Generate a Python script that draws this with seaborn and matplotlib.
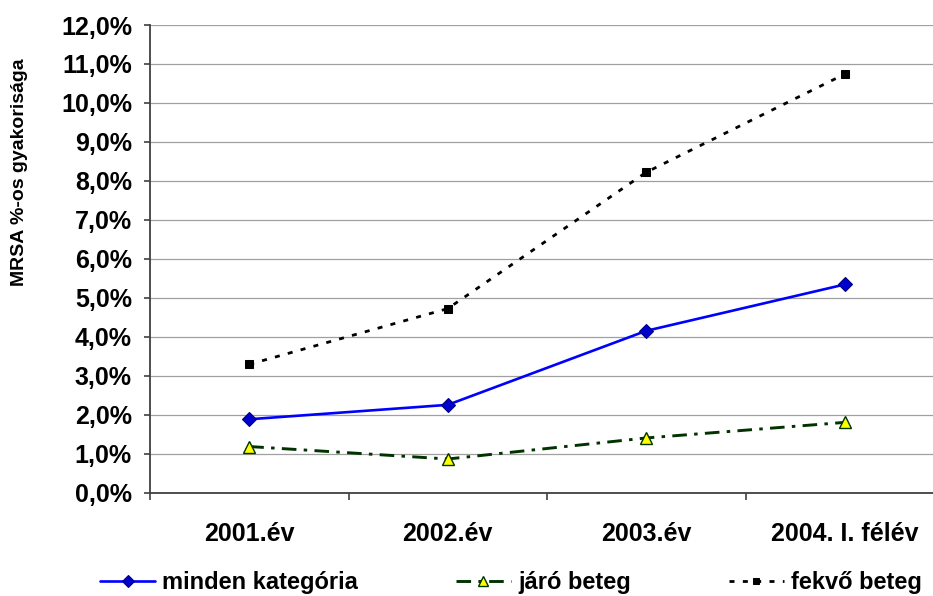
import matplotlib
matplotlib.use("Agg")
import matplotlib.pyplot as plt
from matplotlib.ticker import FixedLocator, FuncFormatter
import seaborn as sns
import pandas as pd

# Categories and series (MRSA frequency, %)
categories = ["2001.év", "2002.év", "2003.év", "2004. I. félév"]
minden_kategoria = [1.88, 2.25, 4.15, 5.34]
jaro_beteg = [1.18, 0.86, 1.40, 1.80]
fekvo_beteg = [3.29, 4.72, 8.22, 10.74]

series_names = ["minden kategória", "járó beteg", "fekvő beteg"]
series_values = [minden_kategoria, jaro_beteg, fekvo_beteg]

rows = []
for name, vals in zip(series_names, series_values):
    for i, v in enumerate(vals):
        rows.append({"pos": i, "kategoria": categories[i], "sorozat": name, "ertek": v})
df = pd.DataFrame(rows)

sns.set_style("white")
plt.rcParams["font.family"] = ["Liberation Sans", "DejaVu Sans"]
plt.rcParams["font.weight"] = "bold"
plt.rcParams["text.color"] = "black"
plt.rcParams["xtick.color"] = "black"
plt.rcParams["ytick.color"] = "black"

W, H = 933, 596
fig = plt.figure(figsize=(W / 100, H / 100), dpi=100)
ax = fig.add_axes([150 / W, 1 - 492.5 / H, 794 / W, 467.5 / H])

styles = {
    "minden kategória": dict(color="#0000ff", linewidth=1.9, linestyle="-",
                             marker="D", markersize=7.5, markerfacecolor="#0000cc",
                             markeredgecolor="#000080", markeredgewidth=0.8),
    "járó beteg": dict(color="#003300", linewidth=2.1, dashes=(5, 2.5, 1.2, 2.5),
                       marker="^", markersize=8.5, markerfacecolor="#ffff00",
                       markeredgecolor="#003300", markeredgewidth=1.0),
    "fekvő beteg": dict(color="#000000", linewidth=2.0, dashes=(1.8, 3.0),
                        marker="s", markersize=6, markerfacecolor="#000000",
                        markeredgecolor="#000000"),
}

for name in series_names:
    sub = df[df["sorozat"] == name]
    sns.lineplot(data=sub, x="pos", y="ertek", ax=ax, label=name,
                 sort=False, estimator=None, **styles[name])

ax.set_xlim(-0.5, 3.5)
ax.set_ylim(0, 12)

# y axis: 0..12 % with comma decimal
ax.yaxis.set_major_locator(FixedLocator(range(0, 13)))
ax.yaxis.set_major_formatter(FuncFormatter(lambda v, p: f"{v:.1f}%".replace(".", ",")))
ax.grid(axis="y", color="#a0a0a0", linewidth=0.9)
ax.grid(axis="x", visible=False)
ax.set_axisbelow(True)

# x axis: labels at category centres, tick marks on category boundaries
ax.set_xticks(range(len(categories)))
ax.set_xticklabels(categories)
ax.set_xticks([-0.5, 0.5, 1.5, 2.5, 3.5], minor=True)
ax.tick_params(axis="x", which="major", length=0, pad=21, labelsize=18, labelcolor="black")
ax.tick_params(axis="x", which="minor", length=5, width=1.2, color="#404040", direction="out", bottom=True)
ax.tick_params(axis="y", which="major", length=4, width=1.2, color="#404040", direction="out",
               left=True, pad=9, labelsize=18, labelcolor="black")
for lbl in ax.get_xticklabels() + ax.get_yticklabels():
    lbl.set_fontweight("bold")

for side in ["top", "right"]:
    ax.spines[side].set_visible(False)
for side in ["left", "bottom"]:
    ax.spines[side].set_color("#404040")
    ax.spines[side].set_linewidth(1.3)

ax.set_xlabel("")
ax.set_ylabel("")
fig.text(20 / W, 1 - 172 / H, "MRSA %-os gyakorisága", rotation=90,
         ha="center", va="center", fontsize=14, fontweight="bold", color="black")

ax.get_legend().remove()
handles, labels = ax.get_legend_handles_labels()
leg = fig.legend(handles, labels, loc="center left", bbox_to_anchor=(100 / W, 1 - 583 / H),
                 ncol=3, frameon=False, borderaxespad=0, borderpad=0,
                 handlelength=2.33, handletextpad=0.3, columnspacing=4.15,
                 prop={"weight": "bold", "size": 17}, markerscale=0.8)
for t in leg.get_texts():
    t.set_color("black")

fig.savefig("out.png", dpi=100)
